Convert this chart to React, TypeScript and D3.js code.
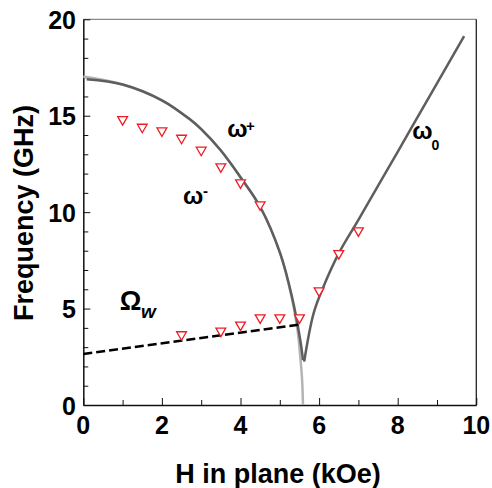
import * as d3 from "d3"
import { useEffect, useRef } from "react"

// field (kOe) / frequency (GHz)
const plusH = [0.085, 1, 2, 2.72, 3.0, 3.49, 3.99, 4.5, 5.01, 5.31, 5.52, 5.59]
const plusF = [16.89, 16.62, 15.8, 14.8, 14.3, 13.22, 11.84, 10.28, 7.86, 5.61, 3.37, 2.33]

const minusH = [0, 1, 2, 2.72, 3.0, 3.49, 3.99, 4.5, 5.01, 5.3, 5.45, 5.53, 5.57, 5.59]
const minusF = [17.03, 16.62, 15.8, 14.8, 14.3, 13.22, 11.84, 10.28, 7.86, 5.6, 3.9, 2.3, 1.2, 0]

const zeroH = [5.62, 5.86, 6.11, 6.5, 7, 8, 9, 9.69]
const zeroF = [2.25, 4.75, 6.13, 7.86, 9.6, 13.13, 16.68, 19.13]

const wallH = [0, 5.5]
const wallF = [2.65, 4.17]

// measured points
const ptsH = [1, 1.5, 2, 2.5, 3, 3.5, 4, 4.5, 2.5, 3.5, 4, 4.5, 5, 5.5, 6, 6.5, 7]
const ptsF = [14.81, 14.41, 14.22, 13.84, 13.22, 12.36, 11.53, 10.39, 3.65, 3.84, 4.15, 4.53, 4.53, 4.53, 5.93, 7.86, 9.04]

const xTicks = [0, 2, 4, 6, 8, 10]
const yTicks = [0, 5, 10, 15, 20]

export default function App() {
  const ref = useRef<SVGSVGElement>(null)

  useEffect(() => {
    const svg = d3.select(ref.current)
    svg.selectAll("*").remove()

    const font = "'Liberation Sans', Arial, sans-serif"
    const x = d3.scaleLinear().domain([0, 10]).range([83.3, 476.3])
    const y = d3.scaleLinear().domain([0, 20]).range([405, 19.3])

    const g = svg.append("g")

    // frame: top grey, right dark
    g.append("line").attr("x1", x(0)).attr("x2", x(10)).attr("y1", y(20)).attr("y2", y(20))
      .attr("stroke", "#8a8a8a").attr("stroke-width", 1.3)
    g.append("line").attr("x1", x(10)).attr("x2", x(10)).attr("y1", y(20)).attr("y2", y(0))
      .attr("stroke", "#222").attr("stroke-width", 1.3)

    // ticks, drawn inward
    const xt = g.append("g").attr("transform", `translate(0,${y(0)})`)
      .call(d3.axisBottom(x).tickValues(d3.range(0, 11, 1)).tickSizeInner(-5).tickSizeOuter(0).tickFormat(() => ""))
    xt.selectAll(".tick line").attr("y2", (d: any) => (d % 2 === 0 ? -7 : -5))
    const yt = g.append("g").attr("transform", `translate(${x(0)},0)`)
      .call(d3.axisLeft(y).tickValues(d3.range(0, 21, 1)).tickSizeInner(-5).tickSizeOuter(0).tickFormat(() => ""))
    yt.selectAll(".tick line").attr("x2", (d: any) => (d % 5 === 0 ? 7 : 5))
    g.selectAll(".domain").attr("stroke", "#111").attr("stroke-width", 1.5)
    g.selectAll(".tick line").attr("stroke", "#111").attr("stroke-width", 1)

    // tick labels
    g.selectAll(".xl").data(xTicks).enter().append("text")
      .attr("x", d => x(d)).attr("y", 434)
      .attr("text-anchor", "middle")
      .style("font", `bold 25px ${font}`).attr("fill", "#000")
      .text(d => d)
    g.selectAll(".yl").data(yTicks).enter().append("text")
      .attr("x", 76).attr("y", d => y(d) + 9.5)
      .attr("text-anchor", "end")
      .style("font", `bold 25px ${font}`).attr("fill", "#000")
      .text(d => d)

    // axis titles
    g.append("text").attr("x", 278).attr("y", 483).attr("text-anchor", "middle")
      .style("font", `bold 27px ${font}`).text("H in plane (kOe)")
    g.append("text").attr("transform", "translate(33,213) rotate(-90)").attr("text-anchor", "middle")
      .style("font", `bold 27px ${font}`).text("Frequency (GHz)")

    const line = d3.line<[number, number]>()
      .x(d => x(d[0])).y(d => y(d[1]))
      .curve(d3.curveCatmullRom.alpha(0.5))

    // ω- (light), ω+ (dark), ω0
    g.append("path").datum(minusH.map((h, i) => [h, minusF[i]] as [number, number]))
      .attr("d", line).attr("fill", "none").attr("stroke", "#b4b4b4").attr("stroke-width", 2.5)
    g.append("path").datum(plusH.map((h, i) => [h, plusF[i]] as [number, number]))
      .attr("d", line).attr("fill", "none").attr("stroke", "#5e5e5e").attr("stroke-width", 2.5)
    g.append("path").datum(zeroH.map((h, i) => [h, zeroF[i]] as [number, number]))
      .attr("d", line).attr("fill", "none").attr("stroke", "#5e5e5e").attr("stroke-width", 2.5)

    // wall mode, dashed
    g.append("path").datum(wallH.map((h, i) => [h, wallF[i]] as [number, number]))
      .attr("d", d3.line<[number, number]>().x(d => x(d[0])).y(d => y(d[1])))
      .attr("fill", "none").attr("stroke", "#000").attr("stroke-width", 2.5)
      .attr("stroke-dasharray", "9,4")

    // down-triangles
    const tri = d3.symbol().type(d3.symbolTriangle).size(42)
    g.selectAll(".pt").data(ptsH.map((h, i) => [h, ptsF[i]])).enter().append("path")
      .attr("d", tri)
      .attr("transform", d => `translate(${x(d[0])},${y(d[1])}) rotate(180)`)
      .attr("fill", "#fff").attr("stroke", "#ee1c25").attr("stroke-width", 1.3)

    // curve labels
    const lab = (h: number, f: number, s: string, size: number, style = "normal") =>
      g.append("text").attr("x", x(h)).attr("y", y(f))
        .style("font", `${style} bold ${size}px ${font}`).attr("fill", "#000").text(s)

    lab(3.66, 13.9, "ω", 24)
    g.append("text").attr("x", 246).attr("y", 131).style("font", `bold 15px ${font}`).text("+")
    lab(2.54, 10.42, "ω", 24)
    g.append("text").attr("x", 203).attr("y", 196).style("font", `bold 15px ${font}`).text("-")
    lab(8.37, 13.8, "ω", 24)
    g.append("text").attr("x", 431.5).attr("y", 150).style("font", `bold 14px ${font}`).text("0")
    lab(0.93, 4.92, "Ω", 27)
    g.append("text").attr("x", 141).attr("y", 318).style("font", `italic bold 19px ${font}`).text("w")
  }, [])

  return (
    <svg ref={ref} width={492} height={488}
      style={{ position: "absolute", left: 0, top: 0, background: "#fff" }} />
  )
}
